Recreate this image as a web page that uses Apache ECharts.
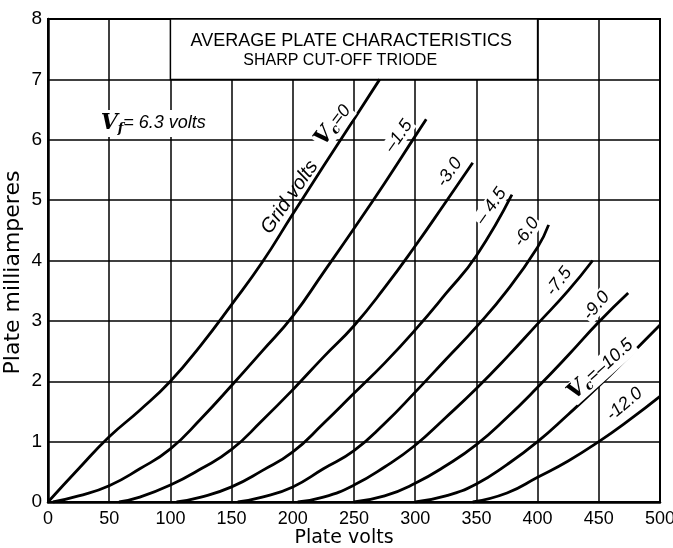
<!DOCTYPE html>
<html><head><meta charset="utf-8">
<script src="https://cdn.jsdelivr.net/npm/echarts@6/dist/echarts.min.js"></script>
<style>html,body{margin:0;padding:0;background:#fff}#c{width:673px;height:548px}</style>
</head><body><div id="c"></div>
<script>
// Axis ticks
const xTicks = [0, 50, 100, 150, 200, 250, 300, 350, 400, 450, 500];
const yTicks = [0, 1, 2, 3, 4, 5, 6, 7, 8];
// Grid voltage labels of the curves
const gridVoltLabels = ['0', '-1.5', '-3.0', '-4.5', '-6.0', '-7.5', '-9.0', '-10.5', '-12.0'];
// Plate volts / plate milliamperes
const vc0   = [[0,0],[25,0.55],[50,1.08],[75,1.52],[100,2.0],[125,2.6],[150,3.27],[175,3.97],[200,4.77],[225,5.56],[250,6.34],[271,7.0]];
const vc1_5 = [[4,0],[25,0.1],[50,0.27],[75,0.55],[100,0.88],[125,1.38],[150,1.93],[175,2.5],[200,3.08],[225,3.8],[250,4.53],[275,5.28],[300,6.06],[309,6.34]];
const vc3_0 = [[58,0],[75,0.08],[100,0.28],[125,0.55],[150,0.87],[175,1.35],[200,1.86],[225,2.4],[250,2.92],[275,3.55],[300,4.24],[325,4.97],[347,5.62]];
const vc4_5 = [[105,0],[125,0.08],[150,0.25],[175,0.52],[200,0.83],[225,1.3],[250,1.8],[275,2.3],[300,2.85],[325,3.45],[350,4.08],[379,5.09]];
const vc6_0 = [[155,0],[175,0.08],[200,0.25],[225,0.55],[250,0.85],[275,1.3],[300,1.82],[325,2.36],[350,2.9],[375,3.5],[400,4.22],[409,4.59]];
const vc7_5 = [[204,0],[225,0.08],[250,0.28],[275,0.58],[300,0.94],[325,1.4],[350,1.88],[375,2.4],[400,2.95],[425,3.5],[445,4.0]];
const vc9_0 = [[250,0],[275,0.1],[300,0.31],[325,0.6],[350,0.95],[375,1.4],[400,1.9],[425,2.43],[450,2.98],[474,3.46]];
const vc10_5= [[300,0],[325,0.1],[350,0.3],[375,0.62],[400,1.0],[425,1.45],[450,1.92],[475,2.42],[500,2.93]];
const vc12_0= [[347,0],[375,0.15],[400,0.41],[425,0.68],[450,1.0],[475,1.36],[500,1.75]];
const curves = [vc0, vc1_5, vc3_0, vc4_5, vc6_0, vc7_5, vc9_0, vc10_5, vc12_0];

const sans = "'Liberation Sans', sans-serif";
const nameFont = "'DejaVu Sans', sans-serif";
const chart = echarts.init(document.getElementById('c'), null, {renderer: 'canvas'});

const series = curves.map((d, i) => ({
  type: 'line', name: gridVoltLabels[i], data: d, showSymbol: false, smooth: 0.5,
  lineStyle: {color: '#000', width: 2.8}, silent: true, z: 3,
  markArea: i === 0 ? {silent: true, itemStyle: {color: '#fff', borderColor: '#000', borderWidth: 1.5},
    data: [[{coord: [100, 7]}, {coord: [400, 8]}]]} : undefined
}));

chart.setOption({
  animation: false,
  backgroundColor: '#fff',
  grid: {left: 48, right: 13, top: 19, bottom: 46, containLabel: false, outerBoundsMode: 'none',
    show: true, borderColor: '#000', borderWidth: 2},
  xAxis: {
    type: 'value', min: 0, max: 500, interval: 50,
    name: 'Plate volts', nameLocation: 'middle', nameGap: 27, nameMoveOverlap: false,
    nameTextStyle: {fontFamily: nameFont, fontSize: 19, color: '#000', padding: [0, 20, 0, 0]},
    axisLine: {show: true, lineStyle: {color: '#000', width: 2.5}},
    axisTick: {show: false},
    axisLabel: {fontFamily: sans, fontSize: 18, color: '#000', margin: 8,
      formatter: v => xTicks.includes(v) ? String(v) : ''},
    splitLine: {show: true, lineStyle: {color: '#000', width: 1.5}}
  },
  yAxis: {
    type: 'value', min: 0, max: 8, interval: 1,
    name: 'Plate milliamperes', nameLocation: 'middle', nameGap: 24, nameMoveOverlap: false,
    nameTextStyle: {fontFamily: nameFont, fontSize: 22, color: '#000', padding: [0, 0, 0, -24]},
    axisLine: {show: true, lineStyle: {color: '#000', width: 2.5}},
    axisTick: {show: false},
    axisLabel: {fontFamily: sans, fontSize: 19, color: '#000', margin: 6,
      formatter: v => yTicks.includes(v) ? String(v) : ''},
    splitLine: {show: true, lineStyle: {color: '#000', width: 1.5}}
  },
  series: series
});

// Text annotations anchored at data coordinates
const P = (v, i) => chart.convertToPixel({gridIndex: 0}, [v, i]);
const deg = a => a * Math.PI / 180;
const italic = "italic 18px 'Liberation Sans', sans-serif";
function label(v, i, rotDeg, style) {
  const p = P(v, i);
  return {type: 'text', x: p[0], y: p[1], rotation: deg(rotDeg), z: 10,
    style: Object.assign({align: 'center', verticalAlign: 'middle', textAlign: 'center', textVerticalAlign: 'middle', fill: '#000'}, style)};
}
const vcRich = {
  V: {font: "bold italic 22px 'DejaVu Serif', serif", fill: '#000'},
  c: {font: "bold italic 13px 'DejaVu Serif', serif", fill: '#000', padding: [10, 0, 0, 0]},
  t: {font: "italic 18px 'Liberation Sans', sans-serif", fill: '#000'}
};
const pad = [0, 1, 0, 1];
const graphics = [
  label(247.8, 7.63, 0, {text: 'AVERAGE PLATE CHARACTERISTICS', font: "18px " + sans}),
  label(238.7, 7.31, 0, {text: 'SHARP CUT-OFF TRIODE', font: "16px " + sans}),
  label(86, 6.27, 0, {text: '{V|V}{c|f}{t|= 6.3 volts}', rich: vcRich, backgroundColor: '#fff', padding: [2, 3, 2, 3]}),
  label(197.5, 5.05, 55, {text: 'Grid volts', font: "italic 20px 'Liberation Sans', sans-serif"}),
  label(233, 6.24, 52, {text: '{V|V}{c|c}{t|=' + gridVoltLabels[0] + '}', rich: vcRich, backgroundColor: '#fff', padding: pad}),
  label(286.5, 6.06, 55, {text: gridVoltLabels[1].replace('-', '–'), font: italic, backgroundColor: '#fff', padding: pad}),
  label(328, 5.46, 55, {text: gridVoltLabels[2], font: italic, backgroundColor: '#fff', padding: pad}),
  label(362, 4.9, 55, {text: gridVoltLabels[3].replace('-', '– '), font: italic, backgroundColor: '#fff', padding: pad}),
  label(391, 4.47, 55, {text: gridVoltLabels[4], font: italic, backgroundColor: '#fff', padding: pad}),
  label(417.5, 3.65, 53, {text: gridVoltLabels[5], font: italic, backgroundColor: '#fff', padding: pad}),
  label(448, 3.25, 50, {text: gridVoltLabels[6], font: italic, backgroundColor: '#fff', padding: pad}),
  label(451.5, 2.2, 42, {text: '{V|V}{c|c}{t|=' + gridVoltLabels[7].replace('-', '–') + '}', rich: vcRich, backgroundColor: '#fff', padding: pad}),
  label(471, 1.62, 40, {text: gridVoltLabels[8], font: italic, backgroundColor: '#fff', padding: pad})
];
chart.setOption({graphic: {elements: graphics}});
</script>
</body></html>
